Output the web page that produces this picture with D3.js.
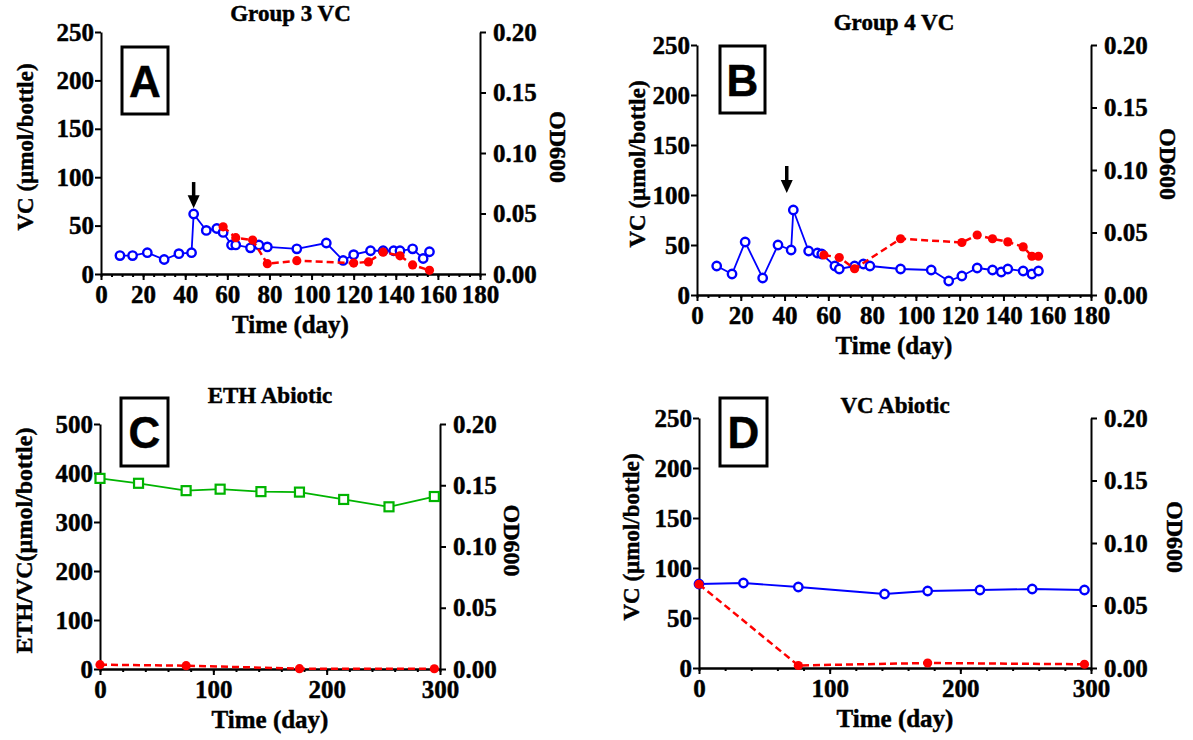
<!DOCTYPE html>
<html>
<head>
<meta charset="utf-8">
<script src="https://cdn.jsdelivr.net/npm/d3@7"></script>
<style>
body { margin: 0; background: #fff; }
text { font-family: "Liberation Serif", "Times New Roman", serif; font-weight: bold; fill: #000; stroke: #000; stroke-width: 0.45px; }
</style>
</head>
<body>
<script>
// ---- data ----
// A: Group 3 VC
var g3Days   = [9, 15, 22, 30, 37, 43, 44, 50, 55, 58, 62, 64, 71, 75, 79, 93, 107, 115, 120, 128, 134, 139, 142, 148, 153, 156];
var g3VC     = [19, 19, 22, 15, 21, 22, 62, 45, 47, 43, 30, 30, 27, 30, 28, 26, 32, 14, 20, 24, 24, 24, 24, 26, 16, 23];
var g3OdDays = [58, 64, 72, 79, 93, 120, 127, 134, 142, 148, 156];
var g3OD     = [0.039, 0.030, 0.028, 0.0085, 0.011, 0.009, 0.010, 0.018, 0.015, 0.0075, 0.003];

// B: Group 4 VC
var g4Days   = [9, 16, 22, 30, 37, 43, 44, 51, 55, 57, 63, 65, 72, 76, 79, 93, 107, 115, 121, 128, 135, 139, 142, 149, 153, 156];
var g4VC     = [29, 21, 53, 17, 50, 45, 85, 44, 42, 41, 29, 26, 29, 31, 29, 26, 25, 14, 19, 27, 25, 23, 26, 24, 21, 24];
var g4OdDays = [58, 65, 72, 93, 121, 128, 135, 142, 149, 153, 156];
var g4OD     = [0.032, 0.030, 0.021, 0.045, 0.042, 0.048, 0.045, 0.0425, 0.0385, 0.031, 0.031];

// C: ETH abiotic
var ethDays   = [0, 34, 76, 106, 142, 176, 215, 255, 295];
var ethVal    = [389, 379, 364, 367, 362, 361, 346, 331, 352];
var ethOdDays = [0, 76, 176, 295];
var ethOD     = [0.0035, 0.0027, 0.0003, 0.0002];

// D: VC abiotic
var vcaDays   = [0, 34, 76, 142, 175, 215, 255, 295];
var vcaVal    = [84, 85, 81, 74, 77, 78, 79, 78];
var vcaOdDays = [0, 76, 175, 295];
var vcaOD     = [0.067, 0.002, 0.004, 0.003];

var odTicks = [0, 0.05, 0.10, 0.15, 0.20];

var BLUE = "#0000ff", RED = "#ff0000", GREEN = "#00b400";
var SERIF = "'Liberation Serif', 'Times New Roman', serif";

var svg = d3.select("body").append("svg")
    .attr("width", 1193)
    .attr("height", 740);

var panels = [
  { letter: "A", title: "Group 3 VC", yLabel: "VC (\u00b5mol/bottle)",
    left: 101, right: 480, top: 32, bottom: 274, titleY: 21,
    xMax: 180, xStep: 20, xMinor: 5, yMax: 250, yStep: 50,
    box: [122, 47, 46, 67], yLabX: 76, odLabX: 78,
    days: g3Days, vals: g3VC, marker: "circle", color: BLUE,
    odDays: g3OdDays, od: g3OD, arrow: { day: 44, from: 95, to: 68 } },
  { letter: "B", title: "Group 4 VC", yLabel: "VC (\u00b5mol/bottle)",
    left: 697, right: 1091, top: 45, bottom: 295, titleY: 30,
    xMax: 180, xStep: 20, xMinor: 5, yMax: 250, yStep: 50,
    box: [720, 46, 45, 67], yLabX: 60, odLabX: 77,
    days: g4Days, vals: g4VC, marker: "circle", color: BLUE,
    odDays: g4OdDays, od: g4OD, arrow: { day: 41, from: 129, to: 102 } },
  { letter: "C", title: "ETH Abiotic", yLabel: "ETH/VC(\u00b5mol/bottle)",
    left: 100, right: 440, top: 424, bottom: 669, titleY: 403,
    xMax: 300, xStep: 100, xMinor: 20, yMax: 500, yStep: 100,
    box: [121, 398, 47, 68], yLabX: 76, odLabX: 72,
    days: ethDays, vals: ethVal, marker: "square", color: GREEN,
    odDays: ethOdDays, od: ethOD },
  { letter: "D", title: "VC Abiotic", yLabel: "VC (\u00b5mol/bottle)",
    left: 699, right: 1091, top: 418, bottom: 668, titleY: 413,
    xMax: 300, xStep: 100, xMinor: 20, yMax: 250, yStep: 50,
    box: [720, 398, 47, 68], yLabX: 68, odLabX: 84,
    days: vcaDays, vals: vcaVal, marker: "circle", color: BLUE,
    odDays: vcaOdDays, od: vcaOD }
];

function styleAxis(g) {
  g.attr("font-family", SERIF).attr("font-size", 24);
  g.select(".domain").attr("stroke-width", 2);
  g.selectAll(".tick line").attr("stroke-width", 2);
  g.selectAll(".tick text")
      .style("font-family", SERIF)
      .style("font-weight", "bold")
      .style("font-size", "25px");
}

panels.forEach(function(p) {
  var x = d3.scaleLinear().domain([0, p.xMax]).range([p.left, p.right]);
  var y = d3.scaleLinear().domain([0, p.yMax]).range([p.bottom, p.top]);
  var y2 = d3.scaleLinear().domain([0, 0.2]).range([p.bottom, p.top]);

  // minor x ticks
  svg.append("g")
      .attr("transform", "translate(0," + p.bottom + ")")
      .call(d3.axisBottom(x).tickValues(d3.range(0, p.xMax + 1, p.xMinor))
              .tickSize(3).tickSizeOuter(0).tickFormat(""))
      .call(styleAxis);

  // major x axis
  svg.append("g")
      .attr("transform", "translate(0," + p.bottom + ")")
      .call(d3.axisBottom(x).tickValues(d3.range(0, p.xMax + 1, p.xStep))
              .tickSize(6).tickSizeOuter(0).tickPadding(5))
      .call(styleAxis);

  // left axis
  svg.append("g")
      .attr("transform", "translate(" + p.left + ",0)")
      .call(d3.axisLeft(y).tickValues(d3.range(0, p.yMax + 1, p.yStep))
              .tickSize(6).tickSizeOuter(0).tickPadding(1))
      .call(styleAxis);

  // right OD600 axis
  svg.append("g")
      .attr("transform", "translate(" + p.right + ",0)")
      .call(d3.axisRight(y2).tickValues(odTicks).tickFormat(d3.format(".2f"))
              .tickSize(6).tickSizeOuter(0).tickPadding(7))
      .call(styleAxis);

  var midY = (p.top + p.bottom) / 2 - 6;

  // titles
  svg.append("text")
      .attr("x", (p.left + p.right) / 2)
      .attr("y", p.titleY)
      .attr("text-anchor", "middle")
      .attr("font-size", 23)
      .text(p.title);

  svg.append("text")
      .attr("x", (p.left + p.right) / 2)
      .attr("y", p.bottom + 59)
      .attr("text-anchor", "middle")
      .attr("font-size", 25)
      .text("Time (day)");

  svg.append("text")
      .attr("transform", "translate(" + (p.left - p.yLabX + 8) + "," + midY + ") rotate(-90)")
      .attr("text-anchor", "middle")
      .attr("font-size", p.letter == "C" ? 24 : 23)
      .text(p.yLabel);

  svg.append("text")
      .attr("transform", "translate(" + (p.right + p.odLabX - 8) + "," + midY + ") rotate(90)")
      .attr("text-anchor", "middle")
      .attr("font-size", 24)
      .text("OD600");

  // panel letter
  svg.append("rect")
      .attr("x", p.box[0]).attr("y", p.box[1])
      .attr("width", p.box[2]).attr("height", p.box[3])
      .attr("fill", "#fff").attr("stroke", "#000").attr("stroke-width", 3);
  svg.append("text")
      .attr("x", p.box[0] + p.box[2] / 2)
      .attr("y", p.box[1] + p.box[3] / 2 + 16)
      .attr("text-anchor", "middle")
      .style("font-family", "'Liberation Sans', Arial, sans-serif")
      .attr("font-size", 44)
      .text(p.letter);

  // concentration series
  var pts = d3.zip(p.days, p.vals);
  var line = d3.line().x(function(d) { return x(d[0]); }).y(function(d) { return y(d[1]); });
  svg.append("path")
      .datum(pts)
      .attr("d", line)
      .attr("fill", "none")
      .attr("stroke", p.color)
      .attr("stroke-width", 1.8);

  if (p.marker == "circle") {
    svg.selectAll(null).data(pts).enter().append("circle")
        .attr("cx", function(d) { return x(d[0]); })
        .attr("cy", function(d) { return y(d[1]); })
        .attr("r", 4.2)
        .attr("fill", "#fff")
        .attr("stroke", p.color)
        .attr("stroke-width", 2.4);
  } else {
    svg.selectAll(null).data(pts).enter().append("rect")
        .attr("x", function(d) { return x(d[0]) - 4.5; })
        .attr("y", function(d) { return y(d[1]) - 4.5; })
        .attr("width", 9).attr("height", 9)
        .attr("fill", "#fff")
        .attr("stroke", p.color)
        .attr("stroke-width", 2.2);
  }

  // OD600 series
  var odPts = d3.zip(p.odDays, p.od);
  var odLine = d3.line().x(function(d) { return x(d[0]); }).y(function(d) { return y2(d[1]); });
  svg.append("path")
      .datum(odPts)
      .attr("d", odLine)
      .attr("fill", "none")
      .attr("stroke", RED)
      .attr("stroke-width", 2.5)
      .attr("stroke-dasharray", "7,4");
  svg.selectAll(null).data(odPts).enter().append("circle")
      .attr("cx", function(d) { return x(d[0]); })
      .attr("cy", function(d) { return y2(d[1]); })
      .attr("r", 4.6)
      .attr("fill", RED);

  // arrow marking re-spike
  if (p.arrow) {
    var ax = x(p.arrow.day), tip = y(p.arrow.to), topY = y(p.arrow.from);
    svg.append("line")
        .attr("x1", ax).attr("x2", ax)
        .attr("y1", topY).attr("y2", tip - 11)
        .attr("stroke", "#000").attr("stroke-width", 3.5);
    svg.append("path")
        .attr("d", "M" + (ax - 6) + "," + (tip - 13) + "L" + (ax + 6) + "," + (tip - 13) + "L" + ax + "," + tip + "Z")
        .attr("fill", "#000");
  }
});
</script>
</body>
</html>
